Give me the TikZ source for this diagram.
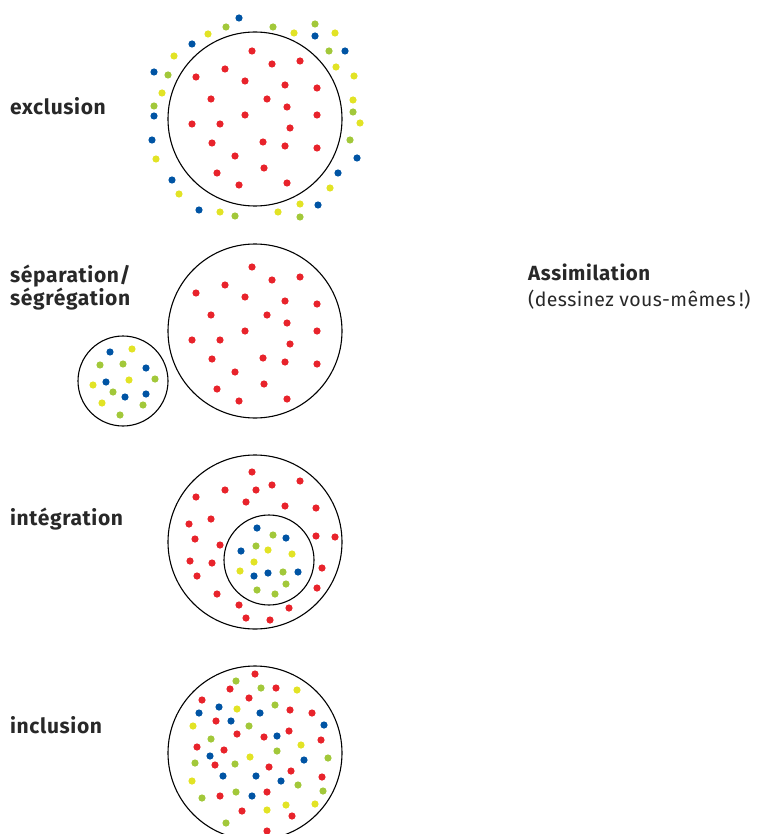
\documentclass[tikz,border=0pt]{standalone}
\usepackage{fontspec}
\setmainfont{Fira Sans}[LetterSpace=2, BoldFeatures={LetterSpace=3}]
\usepackage{tikz}

\definecolor{pred}{RGB}{232,35,43}
\definecolor{pblue}{RGB}{0,84,164}
\definecolor{pgreen}{RGB}{162,200,58}
\definecolor{pyellow}{RGB}{226,227,37}
\definecolor{ink}{RGB}{40,40,40}

\newcommand{\redgroup}{252/51, 272/64, 300/61, 225/69, 196/77, 245/81, 285/85, 317/88, 211/99, 267/99, 287/107, 245/115, 317/115, 192/124, 220/124, 290/128, 212/143, 263/142, 285/146, 317/148, 235/156, 264/168, 217/173, 287/183, 239/185}

\begin{document}
\begin{tikzpicture}[x=1pt, y=-1pt]
	\useasboundingbox (0,0) rectangle (761,834);
	\begin{scope}[every node/.style = {anchor=base west, inner sep=0pt, align=left, text=ink,
			font=\fontsize{21}{21.3}\selectfont\bfseries}]
		\node (excl) at (10,115) {exclusion};
		\node (sepa) at (10,305.3) {séparation/\\ségrégation};
		\node (integ) at (10,525) {intégration};
		\node (incl) at (10,733) {inclusion};
		\node [font=\fontsize{20.5}{21}\selectfont\bfseries] (assim) at (528,280.7) {Assimilation};
		\node [font=\fontsize{19.5}{21}\selectfont] (assimnote) at (528,306) {(dessinez vous-mêmes\,!)};
	\end{scope}
	\begin{scope}[every node/.style = {circle, draw=black, line width=1.1pt, inner sep=0pt}]
		\node [minimum size=174pt] (exclC) at (255,119) {};
		\node [minimum size=174pt] (sepC) at (255,331) {};
		\node [minimum size=90pt] (sepS) at (123,381) {};
		\node [minimum size=174pt] (integC) at (255,542) {};
		\node [minimum size=90pt] (integS) at (269,560) {};
		\node [minimum size=174pt] (inclC) at (255,753) {};
	\end{scope}
	\begin{scope}[person/.style={fill=#1}]
		\foreach \x/\y in \redgroup {
			\fill [person=pred] (\x,\y) circle (3.6pt);
			\fill [person=pred] (\x,\y+216) circle (3.6pt);
		}
		\foreach \x/\y in {239/18, 192/44, 315/36, 345/51, 154/72, 154/116, 152/140, 357/158, 338/173, 172/180, 318/205, 199/210}
			\fill [person=pblue] (\x,\y) circle (3.6pt);
		\foreach \x/\y in {226/27, 273/27, 315/24, 329/51, 168/75, 154/106, 353/112, 350/140, 235/216, 300/217}
			\fill [person=pgreen] (\x,\y) circle (3.6pt);
		\foreach \x/\y in {208/34, 294/33, 335/33, 174/56, 336/67, 354/76, 162/93, 353/100, 360/123, 156/159, 330/188, 179/194, 300/204, 220/212, 278/212}
			\fill [person=pyellow] (\x,\y) circle (3.6pt);
		\foreach \x/\y in {110/352, 146/368, 106/382, 125/397, 146/394}
			\fill [person=pblue] (\x,\y) circle (3.6pt);
		\foreach \x/\y in {132/349, 93/385, 129/380, 102/403}
			\fill [person=pyellow] (\x,\y) circle (3.6pt);
		\foreach \x/\y in {100/365, 123/364, 155/379, 113/392, 143/405, 120/415}
			\fill [person=pgreen] (\x,\y) circle (3.6pt);
		\foreach \x/\y in {252/472, 300/481, 272/485, 225/490, 256/490, 196/497, 246/502, 285/506, 316/508, 211/519, 189/524, 316/536, 335/537, 195/539, 220/545, 190/561, 212/563, 197/576, 322/568, 317/588, 217/594, 239/605, 289/608, 246/618, 270/620}
			\fill [person=pred] (\x,\y) circle (3.6pt);
		\foreach \x/\y in {257/528, 286/538, 241/551, 254/576, 268/573, 298/572}
			\fill [person=pblue] (\x,\y) circle (3.6pt);
		\foreach \x/\y in {273/535, 256/546, 283/572, 286/584, 257/590, 275/594}
			\fill [person=pgreen] (\x,\y) circle (3.6pt);
		\foreach \x/\y in {268/550, 292/554, 254/562, 240/571}
			\fill [person=pyellow] (\x,\y) circle (3.6pt);
		\foreach \x/\y in {255/674, 230/689, 276/688, 202/700, 249/698, 290/710, 312/713, 216/721, 237/734, 264/737, 289/731, 321/740, 197/747, 224/750, 215/765, 269/767, 291/771, 322/777, 220/796, 267/792, 242/811, 292/816, 267/831}
			\fill [person=pred] (\x,\y) circle (3.6pt);
		\foreach \x/\y in {199/713, 219/707, 260/713, 231/721, 324/725, 277/736, 210/756, 304/760, 223/776, 256/776, 281/781, 252/796}
			\fill [person=pblue] (\x,\y) circle (3.6pt);
		\foreach \x/\y in {236/681, 261/688, 275/705, 249/726, 211/739, 277/751, 195/763, 235/764, 328/758, 298/785, 202/798, 236/792, 323/791, 226/823}
			\fill [person=pgreen] (\x,\y) circle (3.6pt);
		\foreach \x/\y in {297/690, 237/709, 193/726, 301/745, 250/757, 192/781, 267/810, 286/805, 315/804}
			\fill [person=pyellow] (\x,\y) circle (3.6pt);
	\end{scope}
\end{tikzpicture}
\end{document}
